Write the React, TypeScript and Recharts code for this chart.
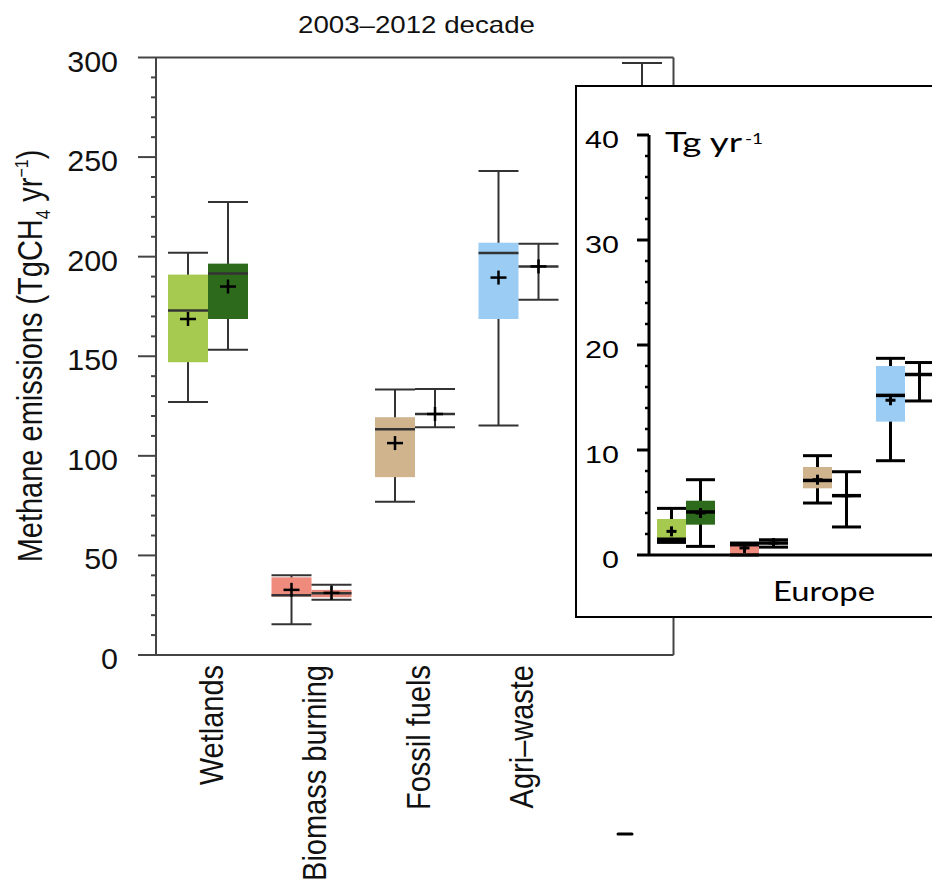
import React from 'react';
import { ComposedChart, Bar, XAxis, YAxis, ReferenceLine } from 'recharts';

// Source categories (last slot has no printed label)
const sources = ['Wetlands', 'Biomass burning', 'Fossil fuels', 'Agri\u2013waste', ''];

// Global 2003-2012, top-down estimates (light boxes, left of each pair)
const tdLow = [127, 15.4, 77, 115.2, null];
const tdQ1 = [147, 29.3, 89.3, 168.7, null];
const tdMedian = [173, 30, 113.4, 201.9, null];
const tdQ3 = [191, 39, 119.4, 207, null];
const tdHigh = [202, 40, 133.3, 243, null];
const tdMean = [168.7, 32.7, 106.4, 189.5, null];
const tdFill = ['#a6c950', '#ef8b7d', '#cfb48d', '#9bccf4', 'none'];

// Global 2003-2012, bottom-up estimates (right of each pair)
const buLow = [153.3, 27.8, 114.4, 178.4, 104];
const buQ1 = [168.7, 29, null, null, null];
const buMedian = [191.5, 31, 121, 195.1, null];
const buQ3 = [196.5, 32.7, null, null, null];
const buHigh = [227.5, 35.3, 133.5, 206.5, 297.3];
const buMean = [185, 31.2, 121, 195.1, null];
const buFill = ['#2d6a1c', '#e4877b', 'none', 'none', 'none'];

// Europe inset
const euSources = ['Wetlands', 'Biomass burning', 'Fossil fuels', 'Agri\u2013waste'];
const euTdLow = [1.2, 0, 4.95, 8.98];
const euTdQ1 = [1.2, 0, 6.35, 12.7];
const euTdMedian = [1.5, 0.98, 7.1, 15.2];
const euTdQ3 = [3.43, 1.14, 8.38, 18.0];
const euTdHigh = [4.44, 1.14, 9.46, 18.73];
const euTdMean = [2.25, 0.67, 7.17, 14.74];
const euTdFill = ['#a6c950', '#ef8b7d', '#cfb48d', '#9bccf4'];
const euBuLow = [0.82, 0.75, 2.67, 14.67];
const euBuQ1 = [2.89, null, null, null];
const euBuMedian = [4.1, 1.14, 5.65, 17.19];
const euBuQ3 = [5.17, null, null, null];
const euBuHigh = [7.17, 1.45, 7.93, 18.33];
const euBuMean = [4.0, 1.14, 5.65, 17.19];
const euBuFill = ['#2d6a1c', 'none', 'none', 'none'];

const mainTicks = Array.from({ length: 31 }, (_, i) => i * 10);
const euTicks = Array.from({ length: 21 }, (_, i) => i * 2);

const SANS = 'Liberation Sans, Arial, Helvetica, sans-serif';

type Stats = { low: number; q1: number | null; median: number | null; q3: number | null; high: number; mean: number | null; fill: string };

const statsAt = (i: number, low: any[], q1: any[], med: any[], q3: any[], high: any[], mean: any[], fill: string[]): Stats | null =>
  high[i] == null ? null : { low: low[i], q1: q1[i], median: med[i], q3: q3[i], high: high[i], mean: mean[i], fill: fill[i] };

const mainRows = sources.map((source, i) => ({
  source,
  td: statsAt(i, tdLow, tdQ1, tdMedian, tdQ3, tdHigh, tdMean, tdFill),
  bu: statsAt(i, buLow, buQ1, buMedian, buQ3, buHigh, buMean, buFill),
}));

const euRows = euSources.map((source, i) => ({
  source,
  td: statsAt(i, euTdLow, euTdQ1, euTdMedian, euTdQ3, euTdHigh, euTdMean, euTdFill),
  bu: statsAt(i, euBuLow, euBuQ1, euBuMedian, euBuQ3, euBuHigh, euBuMean, euBuFill),
}));

const range = (key: 'td' | 'bu') => (d: any) => (d[key] ? [d[key].low, d[key].high] : null);

type BoxStyle = { stroke: string; whisker: number; median: number; cross: number; halfW: number; halfH: number };

// Box + whisker drawn inside the bar's [low, high] rectangle
const boxShape = (key: 'td' | 'bu', st: BoxStyle) => (props: any) => {
  const { x, y, width, height, payload } = props;
  const s: Stats | null = payload ? payload[key] : null;
  if (!s || !Number.isFinite(y) || !Number.isFinite(height)) return <g />;
  const top = Math.min(y, y + height);
  const bot = Math.max(y, y + height);
  const py = (v: number) => bot - ((v - s.low) / (s.high - s.low)) * (bot - top);
  const cx = x + width / 2;
  const hasBox = s.q1 != null && s.q3 != null;
  return (
    <g>
      <line x1={cx} x2={cx} y1={py(s.high)} y2={py(s.low)} stroke={st.stroke} strokeWidth={st.whisker} />
      {hasBox && (
        <rect x={x} y={py(s.q3 as number)} width={width} height={py(s.q1 as number) - py(s.q3 as number)} fill={s.fill} />
      )}
      <line x1={x} x2={x + width} y1={py(s.high)} y2={py(s.high)} stroke={st.stroke} strokeWidth={st.whisker} />
      <line x1={x} x2={x + width} y1={py(s.low)} y2={py(s.low)} stroke={st.stroke} strokeWidth={st.whisker} />
      {s.median != null && (
        <line x1={x} x2={x + width} y1={py(s.median)} y2={py(s.median)} stroke={st.stroke} strokeWidth={st.median} />
      )}
      {s.mean != null && (
        <g stroke="#000" strokeWidth={st.cross}>
          <line x1={cx - st.halfW} x2={cx + st.halfW} y1={py(s.mean)} y2={py(s.mean)} />
          <line x1={cx} x2={cx} y1={py(s.mean) - st.halfH} y2={py(s.mean) + st.halfH} />
        </g>
      )}
    </g>
  );
};

const mainStyle: BoxStyle = { stroke: '#333', whisker: 2, median: 2.5, cross: 2.5, halfW: 8, halfH: 7 };
const euStyle: BoxStyle = { stroke: '#000', whisker: 3, median: 3.5, cross: 3, halfW: 5, halfH: 5 };

const MainLeftTick = (props: any) => {
  const { x, y, payload } = props;
  const v = payload.value;
  const major = v % 50 === 0;
  return (
    <g>
      <line x1={x - (major ? 18 : 5)} x2={x} y1={y} y2={y} stroke="#444" strokeWidth={2} />
      {major && (
        <text transform={`translate(${x - 38},${y + 14}) scale(1.05,1)`} textAnchor="end" fontSize={29} fill="#111" fontFamily={SANS}>
          {v}
        </text>
      )}
    </g>
  );
};

const MainRightTick = (props: any) => {
  const { x, y, payload } = props;
  const major = payload.value % 50 === 0;
  return <line x1={x} x2={x + (major ? 18 : 6)} y1={y} y2={y} stroke="#444" strokeWidth={2} />;
};

const SourceTick = (props: any) => {
  const { x, y, payload } = props;
  if (!payload.value) return <g />;
  return (
    <text transform={`translate(${x + 15},${y + 10}) rotate(-90) scale(1,1.17)`} textAnchor="end" fontSize={29} fill="#111" fontFamily={SANS}>
      {payload.value}
    </text>
  );
};

const EuTick = (props: any) => {
  const { x, y, payload } = props;
  const v = payload.value;
  const major = v % 10 === 0;
  return (
    <g>
      <line x1={x - (major ? 12 : 4)} x2={x} y1={y} y2={y} stroke="#000" strokeWidth={major ? 3 : 2.5} />
      {major && (
        <text transform={`translate(${x - 30},${y + 12.5}) scale(1.27,1)`} textAnchor="end" fontSize={24} fill="#000" fontFamily={SANS}>
          {v}
        </text>
      )}
    </g>
  );
};

export default function App() {
  return (
    <div style={{ position: 'absolute', left: 0, top: 0, width: 932, height: 882, overflow: 'hidden', background: '#fff' }}>
      <div style={{ position: 'absolute', left: 0, top: 0 }}>
        <ComposedChart width={700} height={882} data={mainRows} barSize={40} barGap={0} margin={{ top: 57.5, right: 0, bottom: 0, left: 0 }}>
          <XAxis dataKey="source" axisLine={{ stroke: '#444', strokeWidth: 2 }} tickLine={false} tickSize={0} tickMargin={0} interval={0} height={227} tick={<SourceTick />} />
          <YAxis yAxisId="left" type="number" domain={[0, 300]} ticks={mainTicks} interval={0} width={156} axisLine={{ stroke: '#444', strokeWidth: 2 }} tickLine={false} tickSize={0} tickMargin={0} tick={<MainLeftTick />} />
          <YAxis yAxisId="right" orientation="right" type="number" domain={[0, 300]} ticks={mainTicks} interval={0} width={26.5} axisLine={{ stroke: '#444', strokeWidth: 2 }} tickLine={false} tickSize={0} tickMargin={0} tick={<MainRightTick />} />
          <ReferenceLine yAxisId="left" y={300} stroke="#444" strokeWidth={2} />
          <Bar yAxisId="left" dataKey={range('td')} isAnimationActive={false} shape={boxShape('td', mainStyle)} />
          <Bar yAxisId="left" dataKey={range('bu')} isAnimationActive={false} shape={boxShape('bu', mainStyle)} />
        </ComposedChart>
      </div>

      <svg width={932} height={882} style={{ position: 'absolute', left: 0, top: 0, pointerEvents: 'none' }}>
        <text x={416.5} y={33} textAnchor="middle" fontSize={24} fill="#111" fontFamily={SANS} textLength={237} lengthAdjust="spacingAndGlyphs">
          2003{'\u2013'}2012 decade
        </text>
        <text transform="translate(42,356) rotate(-90) scale(1,1.2)" textAnchor="middle" fontSize={29} fill="#111" fontFamily={SANS}>
          Methane emissions (TgCH
          <tspan fontSize={17} dy={7}>4</tspan>
          <tspan dy={-7}> yr</tspan>
          <tspan fontSize={16} dy={-12}>{'\u2212'}1</tspan>
          <tspan dy={12}>)</tspan>
        </text>
        <line x1={618} x2={632} y1={834} y2={834} stroke="#000" strokeWidth={3} strokeLinecap="round" />
      </svg>

      <div style={{ position: 'absolute', left: 575, top: 85, width: 400, height: 533, border: '2px solid #000', boxSizing: 'border-box', background: '#fff', zIndex: 2 }}>
        <ComposedChart width={380} height={529} data={euRows} barSize={29} barGap={0} margin={{ top: 48, right: 16, bottom: 0, left: 0 }}>
          <XAxis dataKey="source" axisLine={{ stroke: '#000', strokeWidth: 3 }} tickLine={false} tick={false} height={61} />
          <YAxis type="number" domain={[0, 40]} ticks={euTicks} interval={0} width={72} axisLine={{ stroke: '#000', strokeWidth: 3 }} tickLine={false} tickSize={0} tickMargin={0} tick={<EuTick />} />
          <Bar dataKey={range('td')} isAnimationActive={false} shape={boxShape('td', euStyle)} />
          <Bar dataKey={range('bu')} isAnimationActive={false} shape={boxShape('bu', euStyle)} />
        </ComposedChart>
        <svg width={396} height={529} style={{ position: 'absolute', left: 0, top: 0, pointerEvents: 'none' }}>
          <text x={88} y={65} fontSize={27} fill="#000" fontFamily="Lato, Open Sans, sans-serif" textLength={77} lengthAdjust="spacingAndGlyphs">
            Tg yr
          </text>
          <text x={168} y={57} fontSize={15} fill="#000" fontFamily="Lato, Open Sans, sans-serif" textLength={18} lengthAdjust="spacingAndGlyphs">
            -1
          </text>
          <text x={247} y={514} textAnchor="middle" fontSize={26} fill="#000" fontFamily="Lato, Open Sans, sans-serif" textLength={102} lengthAdjust="spacingAndGlyphs">
            Europe
          </text>
        </svg>
      </div>
    </div>
  );
}
